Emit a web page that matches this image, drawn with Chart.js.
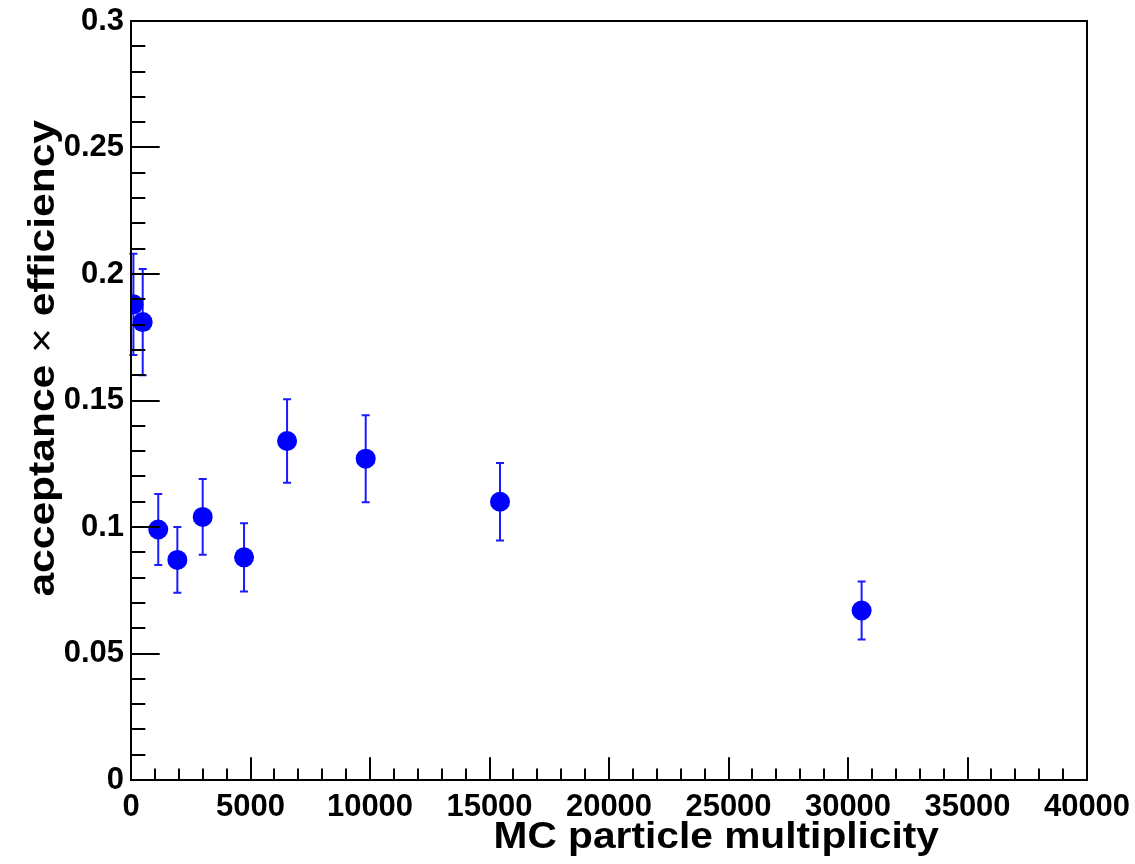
<!DOCTYPE html>
<html>
<head>
  <meta charset="UTF-8">
  <title>acceptance x efficiency vs MC particle multiplicity</title>
  <script src="https://cdn.jsdelivr.net/npm/chart.js"></script>
  <style>
    body { margin: 0; background: #fff; }
    canvas { display: block; }
  </style>
</head>
<body>
  <canvas id="effChart" width="1135" height="864"></canvas>

  <script>
    // values
    const multiplicity = [100, 490, 1140, 1940, 3000, 4730, 6530, 9820, 15440, 30570];
    const accEff = [0.188, 0.181, 0.099, 0.087, 0.104, 0.088, 0.134, 0.127, 0.110, 0.067];
    const accEffErr = [0.020, 0.021, 0.014, 0.013, 0.015, 0.0135, 0.0165, 0.0172, 0.0153, 0.0115];

    const xTickLabels = ["0", "5000", "10000", "15000", "20000", "25000", "30000", "35000", "40000"];
    const yTickLabels = ["0", "0.05", "0.1", "0.15", "0.2", "0.25", "0.3"];

    const xTitle = "MC particle multiplicity";
    const yTitleParts = ["acceptance", " \u00d7 ", "efficiency"];

    const labelFont = { family: "'Liberation Sans', Arial, sans-serif", size: 31, weight: "bold" };

    // ROOT style frame + inward ticks (major and minor)
    const frameTicks = {
      id: "frameTicks",
      afterDatasetsDraw(chart) {
        const { ctx, chartArea: a, scales: { x, y } } = chart;
        ctx.save();
        ctx.strokeStyle = "#000";
        ctx.lineWidth = 2;
        ctx.strokeRect(a.left, a.top, a.right - a.left, a.bottom - a.top);

        const yMajor = 0.03 * (a.right - a.left);
        const xMajor = 0.03 * (a.bottom - a.top);
        ctx.beginPath();
        // x axis: 1000 per minor tick
        for (let v = 0; v <= 40000; v += 1000) {
          const px = Math.round(x.getPixelForValue(v));
          const len = v % 5000 === 0 ? xMajor : xMajor / 2;
          ctx.moveTo(px, a.bottom);
          ctx.lineTo(px, a.bottom - len);
        }
        // y axis: 0.01 per minor tick
        for (let i = 0; i <= 30; i++) {
          const py = Math.round(y.getPixelForValue(i / 100));
          const len = i % 5 === 0 ? yMajor : yMajor / 2;
          ctx.moveTo(a.left, py);
          ctx.lineTo(a.left + len, py);
        }
        ctx.stroke();
        ctx.restore();
      },
      afterDraw(chart) {
        const { ctx } = chart;
        const bold = "bold 37px 'Liberation Sans', Arial, sans-serif";
        const thin = "37px 'Liberation Sans', Arial, sans-serif";
        ctx.save();
        ctx.fillStyle = "#000";
        ctx.textBaseline = "alphabetic";

        // x title, right aligned at ~938
        ctx.save();
        ctx.font = bold;
        ctx.textAlign = "right";
        ctx.translate(939, 848);
        ctx.scale(1.1, 1);
        ctx.fillText(xTitle, 0, 0);
        ctx.restore();

        // y title, rotated, top end at ~120; the times sign is not bold
        ctx.save();
        ctx.translate(54, 120);
        ctx.rotate(-Math.PI / 2);
        ctx.scale(1.15, 1);
        ctx.textAlign = "right";
        let pos = 0;
        [[yTitleParts[2], bold], [yTitleParts[1], thin], [yTitleParts[0], bold]].forEach(([t, f]) => {
          ctx.font = f;
          ctx.fillText(t, pos, 0);
          pos -= ctx.measureText(t).width;
        });
        ctx.restore();

        ctx.restore();
      }
    };

    // vertical error bars with small caps
    const errorBars = {
      id: "errorBars",
      beforeDatasetsDraw(chart) {
        const { ctx, scales: { x, y } } = chart;
        ctx.save();
        ctx.strokeStyle = "#1a1aff";
        ctx.lineWidth = 2;
        ctx.beginPath();
        multiplicity.forEach((m, i) => {
          const px = x.getPixelForValue(m);
          const top = y.getPixelForValue(accEff[i] + accEffErr[i]);
          const bot = y.getPixelForValue(accEff[i] - accEffErr[i]);
          ctx.moveTo(px, top);
          ctx.lineTo(px, bot);
          ctx.moveTo(px - 4, top);
          ctx.lineTo(px + 4, top);
          ctx.moveTo(px - 4, bot);
          ctx.lineTo(px + 4, bot);
        });
        ctx.stroke();
        ctx.restore();
      }
    };

    new Chart(document.getElementById("effChart"), {
      type: "scatter",
      data: {
        datasets: [{
          label: "acceptance x efficiency",
          data: multiplicity.map((m, i) => ({ x: m, y: accEff[i] })),
          backgroundColor: "#0000ff",
          borderWidth: 0,
          pointRadius: 10,
          pointHoverRadius: 10
        }]
      },
      options: {
        responsive: false,
        animation: false,
        layout: { padding: { top: 21, right: 48, left: 0, bottom: 0 } },
        plugins: {
          legend: { display: false },
          tooltip: { enabled: false }
        },
        scales: {
          x: {
            type: "linear",
            min: 0,
            max: 40000,
            grid: { display: false, drawTicks: false },
            border: { display: false },
            ticks: {
              stepSize: 5000,
              autoSkip: false,
              maxRotation: 0,
              padding: 9,
              color: "#000",
              font: labelFont,
              callback: (v, i) => xTickLabels[i]
            },
            afterFit: s => {
              s.height = 84;
              s.paddingLeft = 0;
              s.paddingRight = 0;
            }
          },
          y: {
            type: "linear",
            min: 0,
            max: 0.3,
            grid: { display: false, drawTicks: false },
            border: { display: false },
            ticks: {
              stepSize: 0.05,
              autoSkip: false,
              padding: 7,
              color: "#000",
              font: labelFont,
              callback: (v, i) => yTickLabels[i]
            },
            afterFit: s => {
              s.width = 131;
              s.paddingTop = 0;
              s.paddingBottom = 0;
            }
          }
        }
      },
      plugins: [errorBars, frameTicks]
    });
  </script>
</body>
</html>
